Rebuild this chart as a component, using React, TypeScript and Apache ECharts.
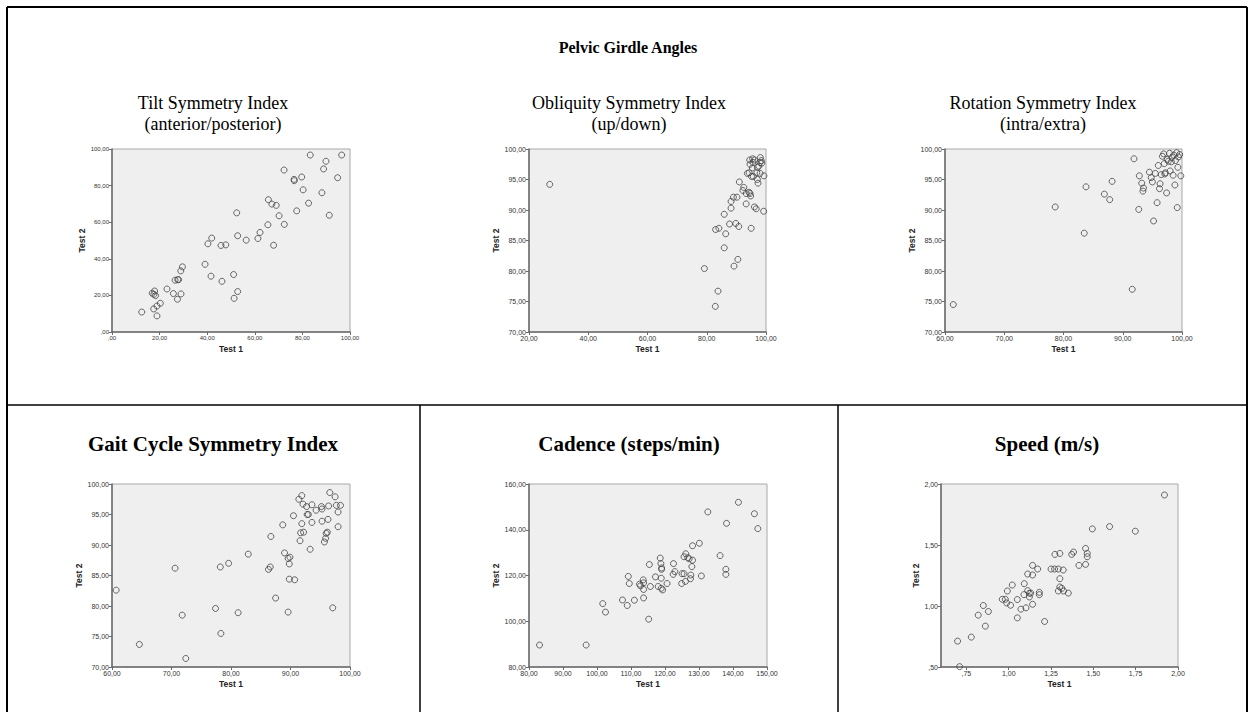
import React, { useEffect, useRef } from "react";
import * as echarts from "echarts";

const mainTitle = "Pelvic Girdle Angles";
const panelTitles = [
  ["Tilt Symmetry Index", "(anterior/posterior)"],
  ["Obliquity Symmetry Index", "(up/down)"],
  ["Rotation Symmetry Index", "(intra/extra)"],
];
const bottomTitles = ["Gait Cycle Symmetry Index", "Cadence (steps/min)", "Speed (m/s)"];

const tiltPoints: [number, number][] = [
  [12.5, 10.9], [17.5, 12.6], [18.9, 8.8], [18.9, 14.2], [20.3, 15.7], [16.9, 21.2], [17.6, 20.6],
  [17.9, 22.4], [18.3, 19.9], [23.1, 23.5], [25.8, 21.0], [27.5, 17.9], [29.0, 20.8], [26.5, 28.3],
  [27.6, 28.6], [28.0, 28.6], [28.9, 33.4], [29.6, 35.6], [39.1, 37.0], [40.3, 48.2], [41.9, 51.3],
  [41.6, 30.5], [45.8, 47.3], [47.8, 47.6], [46.2, 27.7], [51.1, 31.4], [51.3, 18.4], [52.8, 22.1],
  [52.4, 65.1], [52.8, 52.6], [56.4, 50.2], [61.3, 51.1], [62.2, 54.4], [65.5, 58.6], [65.7, 72.3],
  [67.2, 69.9], [69.0, 69.2], [70.2, 63.5], [67.9, 47.4], [72.3, 88.5], [72.4, 58.8], [76.5, 83.4],
  [76.6, 82.7], [77.6, 66.2], [79.7, 84.7], [80.3, 77.7], [82.6, 70.4], [83.3, 96.7], [96.5, 96.7],
  [89.9, 93.3], [88.9, 89.1], [94.8, 84.3], [88.2, 76.1], [91.3, 63.8],
];

const obliquityPoints: [number, number][] = [
  [27.0, 94.2], [79.2, 80.4], [82.9, 74.2], [83.8, 76.7], [85.9, 83.8], [89.2, 80.8], [90.5, 81.9],
  [83.0, 86.8], [84.1, 87.0], [86.4, 86.1], [87.7, 87.7], [89.8, 87.8], [90.8, 87.3], [95.0, 87.0],
  [85.9, 89.3], [88.2, 90.3], [88.2, 91.4], [89.0, 92.1], [90.2, 92.1], [93.3, 91.0], [96.1, 90.5],
  [96.7, 90.2], [99.2, 89.8], [91.0, 94.6], [92.5, 93.7], [92.2, 93.2], [93.3, 92.7], [94.3, 92.9],
  [94.6, 92.7], [94.8, 92.3], [93.7, 96.0], [94.3, 96.1], [95.1, 95.5], [95.7, 95.5], [97.1, 95.0],
  [97.3, 94.4], [96.9, 96.1], [98.0, 96.0], [99.3, 95.6], [95.4, 96.9], [97.1, 97.0], [97.6, 97.2],
  [94.6, 97.5], [95.6, 97.8], [96.1, 98.2], [94.5, 98.2], [95.5, 98.4], [98.1, 98.6], [98.4, 98.1],
  [98.6, 97.7], [98.0, 97.8],
];

const rotationPoints: [number, number][] = [
  [61.4, 74.5], [78.6, 90.5], [83.5, 86.2], [83.8, 93.8], [86.9, 92.6], [87.8, 91.7], [88.2, 94.7],
  [91.6, 77.0], [91.9, 98.4], [92.7, 90.1], [92.8, 95.6], [93.2, 94.4], [93.5, 93.6], [93.4, 93.1],
  [94.5, 96.2], [94.8, 95.3], [95.0, 94.6], [95.2, 88.2], [95.5, 96.0], [95.8, 91.2], [96.0, 97.3],
  [96.2, 93.5], [96.5, 95.8], [96.7, 98.8], [96.9, 99.2], [97.0, 97.6], [97.2, 96.1], [97.4, 92.8],
  [97.5, 98.3], [97.7, 98.0], [97.9, 99.3], [98.0, 96.4], [98.2, 97.9], [98.3, 98.6], [98.5, 95.7],
  [98.6, 99.0], [98.8, 94.1], [98.9, 98.1], [99.1, 99.4], [99.2, 90.4], [99.3, 97.0], [99.4, 98.7],
  [99.6, 99.1], [99.8, 95.6], [97.1, 95.9], [96.3, 94.3],
];

const gaitPoints: [number, number][] = [
  [60.7, 82.6], [64.6, 73.7], [70.6, 86.2], [71.8, 78.5], [72.4, 71.4], [77.4, 79.6], [78.2, 86.4],
  [78.3, 75.5], [79.6, 87.0], [81.2, 78.9], [82.9, 88.5], [86.3, 86.0], [86.6, 86.4], [86.7, 91.4],
  [87.5, 81.3], [88.7, 93.3], [89.0, 88.7], [89.6, 87.8], [89.9, 88.0], [89.8, 86.9], [89.8, 84.4],
  [90.7, 84.3], [89.6, 79.0], [90.5, 94.8], [91.4, 97.5], [91.9, 98.1], [92.1, 96.7], [92.7, 96.3],
  [91.9, 93.5], [91.7, 92.0], [92.2, 92.1], [91.6, 90.7], [92.8, 95.0], [93.0, 95.0], [93.6, 96.6],
  [93.6, 93.7], [93.3, 89.3], [94.3, 95.7], [95.2, 96.3], [95.3, 95.9], [95.3, 93.9], [95.9, 91.1],
  [96.0, 91.9], [96.2, 92.1], [96.3, 94.2], [96.4, 96.4], [95.7, 90.5], [96.6, 98.6], [97.5, 97.9],
  [97.7, 96.5], [98.4, 96.5], [98.0, 95.4], [98.0, 93.0], [97.1, 79.7],
];

const cadencePoints: [number, number][] = [
  [83.1, 89.6], [96.8, 89.6], [101.7, 107.7], [102.5, 104.0], [107.5, 109.3], [108.9, 106.9],
  [109.2, 119.6], [109.5, 116.5], [111.0, 109.2], [112.5, 116.2], [112.8, 115.5], [113.6, 118.1],
  [113.7, 116.8], [113.7, 113.9], [113.7, 110.2], [115.2, 100.9], [115.4, 124.8], [115.7, 115.2],
  [117.2, 119.4], [118.0, 115.2], [118.6, 127.6], [118.8, 125.2], [119.0, 123.3], [119.0, 122.7],
  [118.9, 118.8], [118.9, 114.4], [119.3, 113.7], [120.6, 116.5], [122.5, 125.2], [122.9, 121.7],
  [122.4, 120.5], [125.0, 120.8], [125.6, 120.8], [124.9, 116.5], [126.0, 117.4], [126.1, 129.5],
  [125.6, 128.2], [126.7, 127.8], [127.1, 127.3], [128.1, 126.7], [127.9, 123.9], [127.6, 120.2],
  [127.5, 118.6], [128.1, 133.0], [130.1, 134.1], [130.7, 119.8], [132.6, 147.8], [141.6, 152.0],
  [146.3, 147.0], [147.3, 140.5], [138.1, 142.8], [136.2, 128.7], [137.9, 122.7], [137.9, 120.5],
];

const speedPoints: [number, number][] = [
  [0.698, 0.712], [0.71, 0.503], [0.779, 0.745], [0.82, 0.925], [0.85, 1.004], [0.862, 0.835],
  [0.88, 0.955], [0.962, 1.055], [0.98, 1.055], [0.988, 1.025], [0.992, 1.123], [1.011, 1.006],
  [1.021, 1.172], [1.051, 0.903], [1.051, 1.053], [1.072, 0.974], [1.09, 1.093], [1.092, 1.183],
  [1.102, 0.985], [1.112, 1.262], [1.112, 1.126], [1.122, 1.104], [1.122, 1.074], [1.13, 1.106],
  [1.141, 1.014], [1.141, 1.254], [1.141, 1.333], [1.171, 1.303], [1.181, 1.112], [1.181, 1.093],
  [1.212, 0.873], [1.25, 1.303], [1.271, 1.303], [1.293, 1.303], [1.273, 1.423], [1.302, 1.431],
  [1.302, 1.224], [1.293, 1.123], [1.302, 1.156], [1.314, 1.145], [1.322, 1.295], [1.324, 1.123],
  [1.352, 1.106], [1.372, 1.423], [1.383, 1.442], [1.415, 1.333], [1.454, 1.472], [1.464, 1.431],
  [1.464, 1.404], [1.454, 1.341], [1.494, 1.632], [1.596, 1.651], [1.748, 1.613], [1.92, 1.91],
];

const xTicksSpeed = [0.75, 1.0, 1.25, 1.5, 1.75, 2.0];

type Spec = {
  data: [number, number][];
  left: number; top: number; width: number; height: number;
  xMin: number; xMax: number; xInt: number; yMin: number; yMax: number; yInt: number;
  font: number; yGap: number; xCustom?: number[];
};

const specs: Spec[] = [
  { data: tiltPoints, left: 112, top: 149, width: 238, height: 183, xMin: 0, xMax: 100, xInt: 20, yMin: 0, yMax: 100, yInt: 20, font: 6, yGap: 14 },
  { data: obliquityPoints, left: 529, top: 149, width: 237, height: 183, xMin: 20, xMax: 100, xInt: 20, yMin: 70, yMax: 100, yInt: 5, font: 7, yGap: 21 },
  { data: rotationPoints, left: 945, top: 149, width: 237, height: 183, xMin: 60, xMax: 100, xInt: 10, yMin: 70, yMax: 100, yInt: 5, font: 7, yGap: 21 },
  { data: gaitPoints, left: 112, top: 484, width: 238, height: 183, xMin: 60, xMax: 100, xInt: 10, yMin: 70, yMax: 100, yInt: 5, font: 7, yGap: 21 },
  { data: cadencePoints, left: 529, top: 484, width: 238, height: 183, xMin: 80, xMax: 150, xInt: 10, yMin: 80, yMax: 160, yInt: 20, font: 7, yGap: 21 },
  { data: speedPoints, left: 941, top: 484, width: 237, height: 183, xMin: 0.6, xMax: 2.0, xInt: 0.25, yMin: 0.5, yMax: 2.0, yInt: 0.5, font: 7, yGap: 15, xCustom: xTicksSpeed },
];

const fmt = (v: number) => {
  let s = v.toFixed(2).replace(".", ",");
  if (s.startsWith("0,")) s = s.slice(1);
  return s;
};

const SANS = "Liberation Sans, Arial, sans-serif";
const SERIF = "Liberation Serif, Times New Roman, serif";
const AXIS_COLOR = "#6A6A6A";

export default function App() {
  const ref = useRef<HTMLDivElement>(null);
  useEffect(() => {
    if (!ref.current) return;
    const chart = echarts.init(ref.current, undefined, { renderer: "svg" });
    const grids = specs.map((s) => ({
      left: s.left, top: s.top, width: s.width, height: s.height,
      show: true, backgroundColor: "#EFEFEF", borderColor: "#A8A8A8", borderWidth: 1,
    }));
    const labelStyle = (s: Spec) => ({ fontSize: s.font, color: "#333", fontFamily: SANS, formatter: fmt, margin: 3 });
    const nameStyle = { fontWeight: "bold" as const, fontSize: 8.5, fontFamily: SANS, color: "#222" };
    const xAxes = specs.map((s, i) => {
      const ax: any = {
        gridIndex: i, type: "value", min: s.xMin, max: s.xMax,
        axisLine: { show: true, onZero: false, lineStyle: { color: AXIS_COLOR, width: 1.5 } },
        axisTick: { show: true, length: 3, lineStyle: { color: AXIS_COLOR } },
        axisLabel: labelStyle(s),
        splitLine: { show: false },
        name: "Test 1", nameLocation: "middle", nameGap: 12, nameTextStyle: nameStyle,
      };
      if (s.xCustom) {
        ax.axisTick.customValues = s.xCustom;
        ax.axisLabel.customValues = s.xCustom;
      } else {
        ax.interval = s.xInt;
      }
      return ax;
    });
    const yAxes = specs.map((s, i) => ({
      gridIndex: i, type: "value", min: s.yMin, max: s.yMax, interval: s.yInt,
      axisLine: { show: true, onZero: false, lineStyle: { color: AXIS_COLOR, width: 1.5 } },
      axisTick: { show: true, length: 3, lineStyle: { color: AXIS_COLOR } },
      axisLabel: labelStyle(s),
      splitLine: { show: false },
      name: "Test 2", nameLocation: "middle", nameGap: s.yGap, nameTextStyle: nameStyle,
    }));
    const series = specs.map((s, i) => ({
      type: "scatter", xAxisIndex: i, yAxisIndex: i, data: s.data,
      symbol: "circle", symbolSize: 6,
      itemStyle: { color: "rgba(0,0,0,0)", borderColor: "#444", borderWidth: 1 },
      silent: true,
    }));
    const colCenters = [213, 629, 1043];
    const bottomCenters = [213, 629, 1047];
    const graphic: any[] = [
      { type: "line", shape: { x1: 7, y1: 7, x2: 1247, y2: 7 }, style: { stroke: "#000", lineWidth: 2 } },
      { type: "line", shape: { x1: 7, y1: 7, x2: 7, y2: 712 }, style: { stroke: "#000", lineWidth: 2 } },
      { type: "line", shape: { x1: 1247, y1: 7, x2: 1247, y2: 712 }, style: { stroke: "#000", lineWidth: 2 } },
      { type: "line", shape: { x1: 7, y1: 405, x2: 1247, y2: 405 }, style: { stroke: "#000", lineWidth: 1.5 } },
      { type: "line", shape: { x1: 420, y1: 405, x2: 420, y2: 712 }, style: { stroke: "#000", lineWidth: 1.5 } },
      { type: "line", shape: { x1: 838, y1: 405, x2: 838, y2: 712 }, style: { stroke: "#000", lineWidth: 1.5 } },
      { type: "text", x: 628, y: 47, style: { text: mainTitle, fill: "#000", font: `bold 16px ${SERIF}`, align: "center", verticalAlign: "middle" } },
    ];
    panelTitles.forEach((lines, i) => {
      lines.forEach((t, j) => {
        graphic.push({ type: "text", x: colCenters[i], y: 103 + j * 21, style: { text: t, fill: "#000", font: `18px ${SERIF}`, align: "center", verticalAlign: "middle" } });
      });
    });
    bottomTitles.forEach((t, i) => {
      graphic.push({ type: "text", x: bottomCenters[i], y: 444, style: { text: t, fill: "#000", font: `bold 21px ${SERIF}`, align: "center", verticalAlign: "middle" } });
    });
    chart.setOption({
      animation: false,
      backgroundColor: "#fff",
      grid: grids, xAxis: xAxes, yAxis: yAxes, series, graphic,
    });
    return () => chart.dispose();
  }, []);
  return <div ref={ref} style={{ position: "fixed", left: 0, top: 0, width: 1256, height: 712 }} />;
}
